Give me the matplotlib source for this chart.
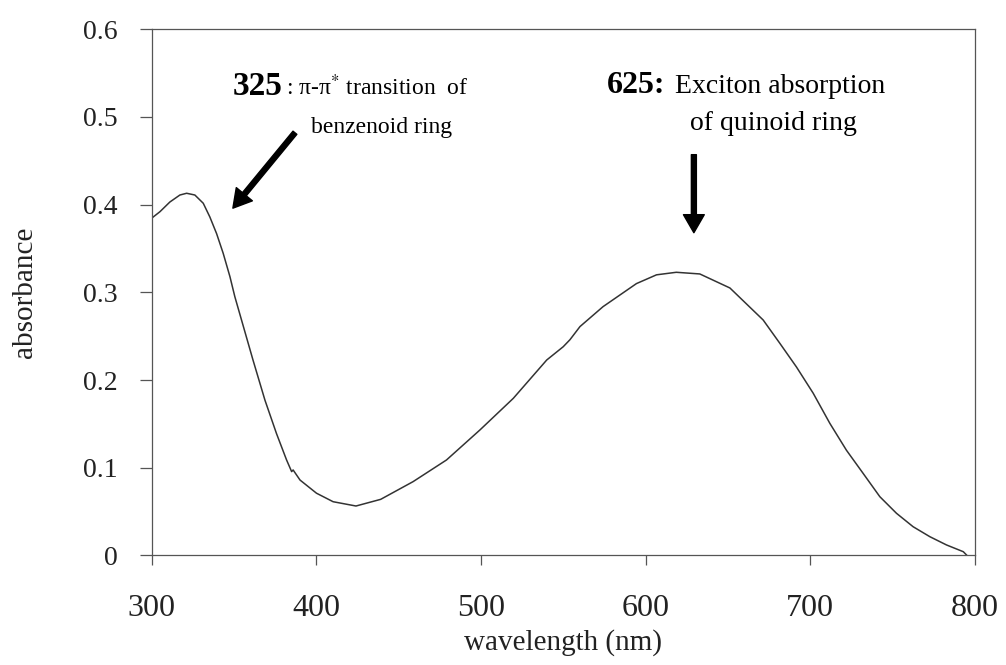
import matplotlib
matplotlib.use("Agg")
import matplotlib.pyplot as plt

# spectre UV-vis (longueur d'onde en nm, absorbance)
wavelength = [299.8, 304.9, 310.9, 317.0, 321.1, 326.1, 331.2, 335.2, 339.3, 343.3,
              347.4, 350.4, 361.4, 368.7, 375.7, 381.8, 384.9, 385.8, 390.0, 400.0,
              410.1, 424.0, 439.0, 458.7, 479.0, 499.3, 519.6, 539.9, 549.9, 554.0,
              560.1, 574.1, 594.4, 606.6, 618.6, 632.9, 651.2, 671.4, 681.5, 691.6,
              701.8, 711.9, 722.0, 732.1, 742.3, 752.4, 762.5, 772.7, 782.8, 793.0,
              795.0]
absorbance = [0.3845, 0.392, 0.403, 0.411, 0.413, 0.411, 0.4016, 0.386, 0.367, 0.3446,
              0.318, 0.295, 0.223, 0.177, 0.139, 0.109, 0.0956, 0.0975, 0.086, 0.071,
              0.0613, 0.0564, 0.064, 0.0842, 0.1089, 0.1431, 0.1792, 0.2229, 0.238, 0.246,
              0.261, 0.2837, 0.310, 0.320, 0.3229, 0.321, 0.305, 0.2685, 0.242, 0.215,
              0.185, 0.1507, 0.120, 0.0937, 0.067, 0.0481, 0.0328, 0.0214, 0.012, 0.0043,
              0.0005]

x_ticks = [300, 400, 500, 600, 700, 800]
y_ticks = [0, 0.1, 0.2, 0.3, 0.4, 0.5, 0.6]
y_tick_labels = ["0", "0.1", "0.2", "0.3", "0.4", "0.5", "0.6"]

plt.rcParams['font.family'] = ['Liberation Serif', 'DejaVu Serif']
plt.rcParams['mathtext.fontset'] = 'stix'

fig = plt.figure(figsize=(10.06, 6.65), dpi=100)
ax = fig.add_axes([0.151, 0.1647, 0.818, 0.7913])

ax.plot(wavelength, absorbance, color='#333333', lw=1.1)

ax.set_xlim(300, 800)
ax.set_ylim(0, 0.6)
ax.set_xticks(x_ticks)
ax.set_xticklabels([str(v) for v in x_ticks])
ax.set_yticks(y_ticks)
ax.set_yticklabels(y_tick_labels)

for s in ax.spines.values():
	s.set_color('#555555')
	s.set_linewidth(0.9)

ax.tick_params(axis='x', direction='out', length=7, width=0.9, color='#555555',
               labelsize=23, pad=21, labelcolor='#222222')
ax.tick_params(axis='y', direction='out', length=8.5, width=0.9, color='#555555',
               labelsize=20, pad=16, labelcolor='#222222')

# le label de l'axe x doit rester dans l'image
ax.set_xlabel("wavelength (nm)", fontsize=21, color='#222222')
ax.xaxis.set_label_coords(0.5, -0.14)
ax.set_ylabel("absorbance", fontsize=21, color='#222222')
ax.yaxis.set_label_coords(-0.138, 0.5)

# annotations des deux bandes
ax.text(349.0, 0.525, "325", fontsize=24, fontweight='bold', ha='left', va='baseline')
ax.text(381.5, 0.525, r": π-π$^{*}$ transition  of", fontsize=17, ha='left', va='baseline')
ax.text(439.7, 0.4818, "benzenoid ring", fontsize=17, ha='center', va='baseline')

ax.text(576.2, 0.527, "625:", fontsize=23, fontweight='bold', ha='left', va='baseline')
ax.text(618.0, 0.527, "Exciton absorption", fontsize=20, ha='left', va='baseline')
ax.text(677.9, 0.485, "of quinoid ring", fontsize=20, ha='center', va='baseline')

arrow_style = dict(arrowstyle='simple,head_length=0.65,head_width=0.75,tail_width=0.18',
                   mutation_scale=20, color='black', shrinkA=0, shrinkB=0)
ax.annotate("", xy=(349.2, 0.396), xytext=(386.9, 0.482), arrowprops=arrow_style)
ax.annotate("", xy=(629.3, 0.368), xytext=(629.3, 0.457), arrowprops=arrow_style)

fig.savefig("out.png", dpi=100)
